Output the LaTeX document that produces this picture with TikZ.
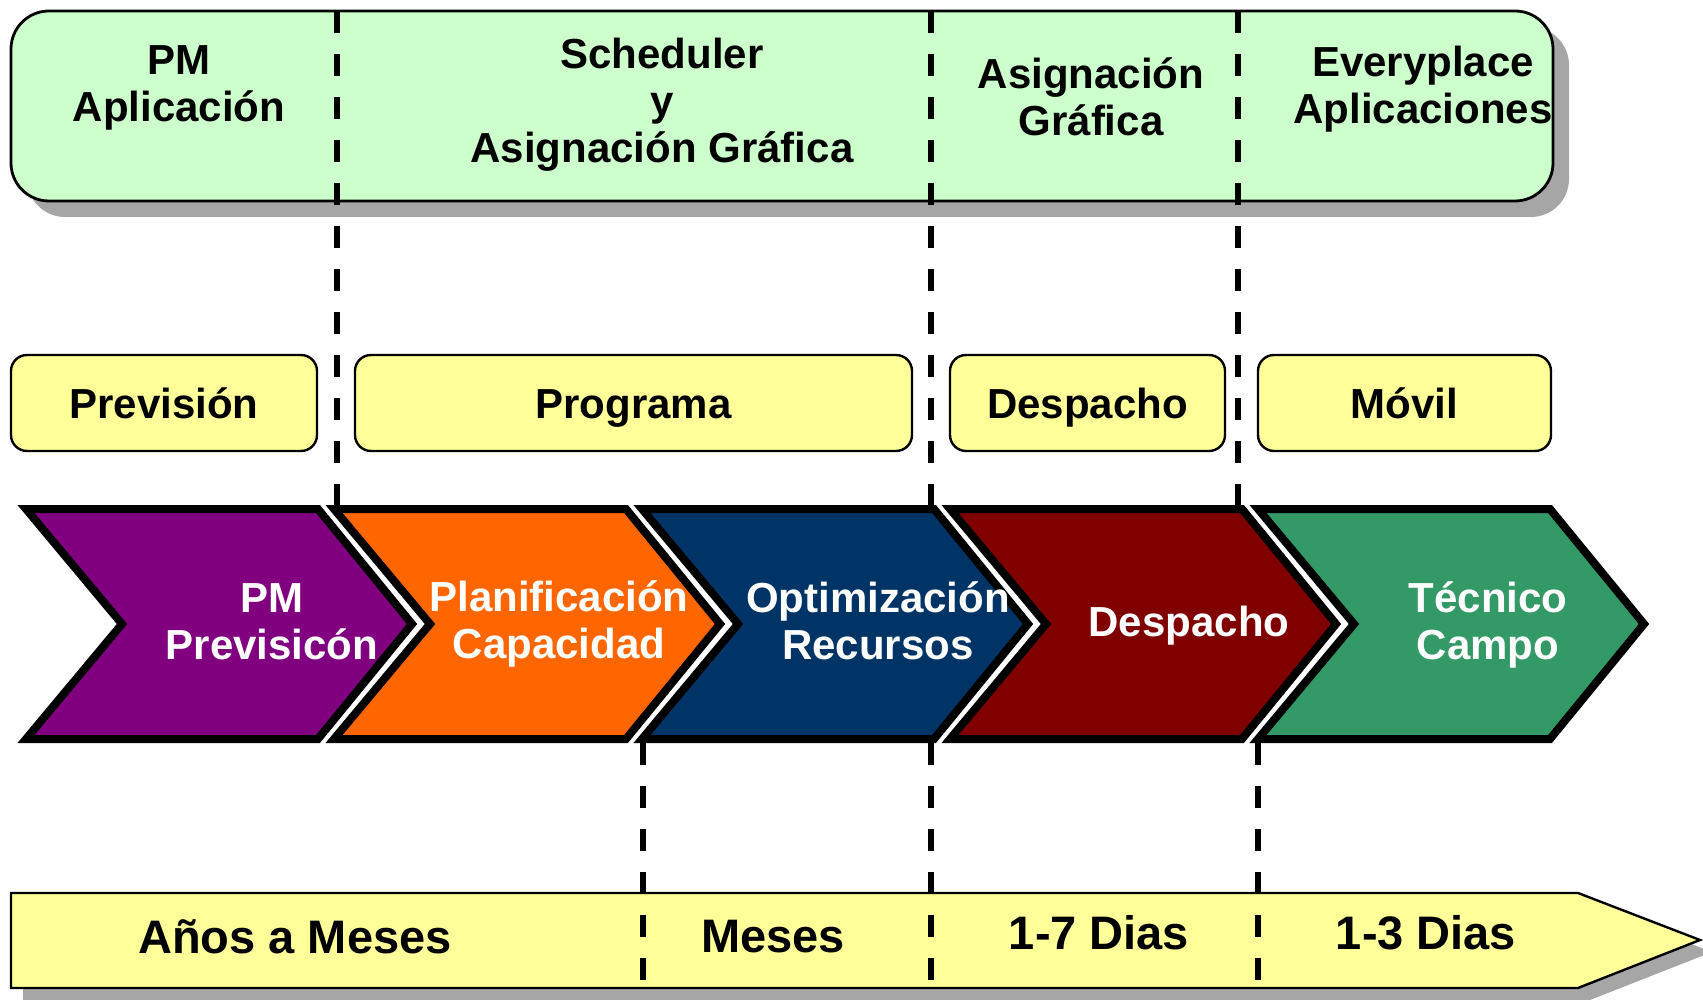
\documentclass[tikz,border=0pt]{standalone}
\usepackage{fontspec}
\setmainfont{Liberation Sans}
\definecolor{topgreen}{HTML}{CCFFCC}
\definecolor{lightyel}{HTML}{FFFF99}
\definecolor{shadowgray}{HTML}{A6A6A6}
\definecolor{cpurple}{HTML}{800080}
\definecolor{corange}{HTML}{FF6600}
\definecolor{cnavy}{HTML}{003366}
\definecolor{cmaroon}{HTML}{800000}
\definecolor{cgreen}{HTML}{339966}
\begin{document}
\begin{tikzpicture}[x=0.5pt,y=-0.5pt,
  txt/.style={font=\fontsize{21}{23.5}\selectfont\bfseries, align=center, inner sep=0pt},
  wtxt/.style={txt, text=white},
  btxt/.style={font=\fontsize{23.5}{26}\selectfont\bfseries, align=center, inner sep=0pt},
  yelbox/.style={draw=black, fill=lightyel, line width=1.2pt, rounded corners=8pt,
    minimum height=48pt, inner sep=0pt, text height=15pt, text depth=0pt,
    font=\fontsize{21}{23.5}\selectfont\bfseries},
  dashline/.style={line width=2.8pt, dash pattern=on 11pt off 10.5pt},
  chevline/.style={line width=4pt, draw=black, miter limit=10}]
\useasboundingbox (0,0) rectangle (1703,1000);

% top box
\fill[shadowgray, rounded corners=19pt] (27,27) rectangle (1569,217);
\draw[fill=topgreen, line width=1.4pt, rounded corners=19pt] (11,11) rectangle (1553,201);

% upper dashed lines
\coordinate (u1t) at (337,11); \coordinate (u1b) at (337,505);
\coordinate (u2t) at (931,11); \coordinate (u2b) at (931,505);
\coordinate (u3t) at (1238,11); \coordinate (u3b) at (1238,505);
\draw[dashline] (u1t) -- (u1b);
\draw[dashline] (u2t) -- (u2b);
\draw[dashline] (u3t) -- (u3b);

% top texts
\node[txt] (t1) at (179,88) {PM\\Aplicación};
\node[txt] (t2) at (662,105) {Scheduler\\y\\Asignación Gráfica};
\node[txt] (t3) at (1091,97) {Asignación\\Gráfica};
\node[txt] (t4) at (1423,89) {Everyplace\\Aplicaciones};

% second row
\node[yelbox, minimum width=153pt] (b1) at (164,403) {Previsión};
\node[yelbox, minimum width=278.5pt] (b2) at (633.5,403) {Programa};
\node[yelbox, minimum width=137.5pt] (b3) at (1087.5,403) {Despacho};
\node[yelbox, minimum width=146.5pt] (b4) at (1404.5,403) {Móvil};

% chevrons
\foreach \L/\c in {26/cpurple, 334/corange, 642/cnavy, 950/cmaroon, 1258/cgreen}{
  \draw[chevline, fill=\c] (\L,509) -- ++(292,0) -- ++(94,115) -- ++(-94,115)
    -- ++(-292,0) -- ++(96,-115) -- cycle;
}
\node[wtxt] (c1) at (272,622) {PM\\Previsicón};
\node[wtxt] (c2) at (559,624) {Planificación\\Capacidad};
\node[wtxt] (c3) at (878,621) {Optimización\\Recursos};
\node[wtxt] (c4) at (1189,626) {Despacho};
\node[wtxt] (c5) at (1488,625) {Técnico\\Campo};

% bottom arrow
\fill[shadowgray] (23,905) -- (1590,905) -- (1712,952) -- (1590,1000) -- (23,1000) -- cycle;
\draw[fill=lightyel, line width=1.2pt] (11,893) -- (1578,893) -- (1700,940) -- (1578,988) -- (11,988) -- cycle;

% lower dashed lines
\coordinate (l1t) at (643,743); \coordinate (l1b) at (643,988);
\coordinate (l2t) at (931,743); \coordinate (l2b) at (931,988);
\coordinate (l3t) at (1258,743); \coordinate (l3b) at (1258,988);
\draw[dashline] (l1t) -- (l1b);
\draw[dashline] (l2t) -- (l2b);
\draw[dashline] (l3t) -- (l3b);

% bottom texts
\node[btxt] (a1) at (295,937) {Años a Meses};
\node[btxt] (a2) at (773,937) {Meses};
\node[btxt] (a3) at (1099,933) {1-7 Dias};
\node[btxt] (a4) at (1426,933) {1-3 Dias};
\end{tikzpicture}
\end{document}
